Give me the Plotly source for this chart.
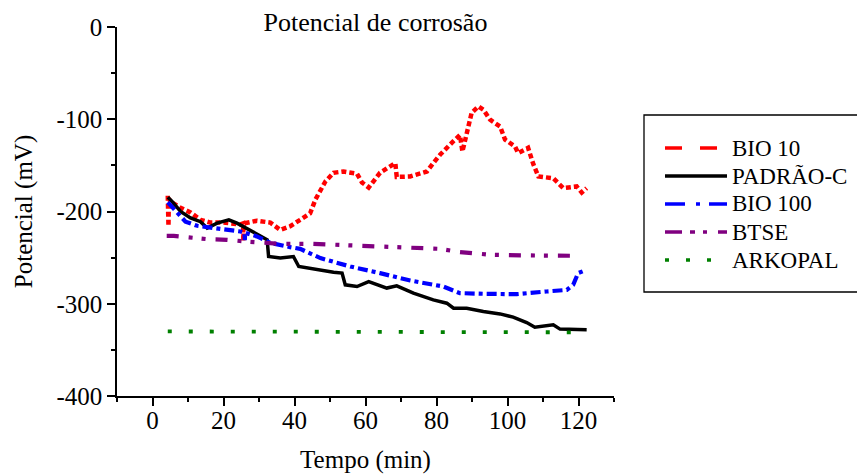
import plotly.graph_objects as go

# Open-circuit potential vs. time for each formulation
bio10_t = [4.3, 4.5, 4.6, 5.0, 7.9, 10.7, 13.5, 16.3, 20.0, 24.8, 25.5, 25.6, 25.7, 29.4,
           33.2, 36.0, 38.8, 41.6, 44.4, 45.9, 47.7, 48.7, 51.0, 53.8, 57.6, 59.0, 60.9,
           64.1, 68.4, 68.8, 72.6, 77.3, 79.1, 81.0, 84.7, 86.6, 87.3, 88.5, 89.9, 91.8,
           93.2, 95.1, 97.9, 99.3, 102.1, 103.0, 105.8, 107.3, 108.7, 112.9, 115.7, 119.5,
           120.9, 122.3]
bio10_v = [-183, -216, -186, -189, -196, -201, -209, -212, -212, -214, -213, -232, -213, -210,
           -212, -220, -216, -209, -202, -187, -173, -167.5, -158, -156.6, -159, -168.5, -174,
           -158, -147.5, -162.5, -162, -156.6, -147.5, -138.5, -124, -117, -135, -115, -93, -86,
           -89.7, -100.5, -107.8, -122, -129.5, -136.7, -131, -149, -162, -164, -174.6, -172.9,
           -179.4, -174.6]

padrao_t = [4.3, 5.5, 7.9, 10.7, 13.5, 15.4, 18.2, 21.5, 23.8, 26.6, 29.0, 32.3, 32.7, 36.0,
            39.7, 41.2, 46.3, 51.0, 53.4, 54.3, 57.6, 60.9, 66.0, 68.8, 73.5, 79.1, 82.9, 84.8,
            88.5, 93.2, 97.9, 101.6, 105.4, 107.7, 112.9, 114.8, 122.3]
padrao_v = [-184.5, -189, -200, -207, -211, -218, -212.6, -209, -212.6, -218, -223.5, -230.7,
            -248.8, -250.5, -248.8, -259.6, -263.2, -265.8, -266.8, -279.5, -281.3, -276, -283,
            -280.6, -288.5, -295.8, -299.4, -304.8, -304.8, -308.4, -311, -314.5, -320.4, -325.4,
            -322.9, -327.5, -328.3]

bio100_t = [4.3, 6.9, 9.3, 12.6, 18.2, 21.9, 24.8, 25.9, 26.0, 26.1, 29.4, 33.2, 38.8, 41.6,
            47.3, 55.7, 64.1, 72.6, 81.9, 86.6, 94.1, 102.6, 111.0, 116.7, 118.5, 119.9, 121.8]
bio100_v = [-190, -201.7, -211, -215.5, -218, -220, -221.7, -223, -231, -223, -227, -234,
            -238.6, -240.5, -250.5, -259.6, -266.8, -274.8, -281.3, -288.5, -289.3, -289.6,
            -286.7, -285, -279.5, -266.8, -264]

btse_t = [4.0, 6.0, 15.4, 21.0, 26.2, 36.0, 44.4, 51.0, 66.0, 81.0, 86.6, 95.6, 110.0, 120.0]
btse_v = [-226.5, -226.5, -230, -230.7, -232.5, -235, -235, -236, -238, -240.5, -244, -247,
          -247.8, -248]

arkopal_t = [4.3, 30.0, 60.0, 90.0, 116.0, 122.0]
arkopal_v = [-330, -330, -330.5, -330.5, -331, -331]

x_ticks = [0, 20, 40, 60, 80, 100, 120]
y_ticks = [0, -100, -200, -300, -400]
y_labels = ["0", "-100", "-200", "-300", "-400"]

names = ["BIO 10", "PADRÃO-C", "BIO 100", "BTSE", "ARKOPAL"]
colors = ["#ff0000", "#000000", "#0000ff", "#800080", "#008000"]
widths = [4.5, 3.5, 4.2, 4.2, 3.8]
plot_dash = ["5px,3px", "solid", "10px,4px,4px,4px", "12px,10px,4px,9px,4px,10px", "4px,17px"]
key_dash = ["17px,18px", "solid", "20px,11px,4px,9px,20px", "17px,8px,5px,8px,4px,11px,9px",
            "4px,17px"]
series = [(bio10_t, bio10_v), (padrao_t, padrao_v), (bio100_t, bio100_v),
          (btse_t, btse_v), (arkopal_t, arkopal_v)]

FONT = "Liberation Serif, Times New Roman, serif"

fig = go.Figure()
for (t, v), name, c, w, d in zip(series, names, colors, widths, plot_dash):
    fig.add_trace(go.Scatter(x=t, y=v, mode="lines", name=name, showlegend=False,
                             line=dict(color=c, width=w, dash=d)))

W, H = 857, 475
L, R, T, B = 117, 243, 27, 79
pw, ph = W - L - R, H - T - B


def px_x(p):
    return (p - L) / pw


def px_y(p):
    return (H - B - p) / ph


# Key box with line samples and labels
shapes = [dict(type="rect", xref="paper", yref="paper",
               x0=px_x(644), x1=px_x(880), y0=px_y(292), y1=px_y(115),
               line=dict(color="black", width=1.3), fillcolor="white", layer="below")]
annotations = []
for i, (name, c, d) in enumerate(zip(names, colors, key_dash)):
    yc = 148 + 28 * i
    shapes.append(dict(type="line", xref="paper", yref="paper",
                       x0=px_x(665), x1=px_x(727), y0=px_y(yc), y1=px_y(yc),
                       line=dict(color=c, width=3.5, dash=d)))
    annotations.append(dict(text=name, xref="paper", yref="paper", x=px_x(730), y=px_y(yc),
                            xanchor="left", yanchor="middle", showarrow=False,
                            font=dict(family=FONT, size=23, color="black")))

fig.update_layout(
    width=W, height=H,
    margin=dict(l=L, r=R, t=T, b=B),
    paper_bgcolor="white", plot_bgcolor="white",
    font=dict(family=FONT, size=25, color="black"),
    title=dict(text="Potencial de corrosão", x=px_x(375.5), xref="paper", xanchor="center",
               y=1 - 22 / H, yanchor="middle", font=dict(family=FONT, size=26, color="black")),
    shapes=shapes, annotations=annotations,
    showlegend=False,
)
fig.update_xaxes(
    range=[-10, 130], tickvals=x_ticks, automargin=False, ticklabelstandoff=-7,
    showgrid=False, zeroline=False, showline=True, linecolor="black", linewidth=1.5,
    ticks="outside", ticklen=8, tickwidth=1.5, tickcolor="black",
    minor=dict(tickvals=[-10, 10, 30, 50, 70, 90, 110, 130], ticks="outside", ticklen=4,
               tickwidth=1.5, tickcolor="black"),
    tickfont=dict(family=FONT, size=25),
    title=dict(text="Tempo (min)", standoff=18, font=dict(family=FONT, size=25)),
)
fig.update_yaxes(
    range=[-400, 0], tickvals=y_ticks, ticktext=y_labels, automargin=False,
    showgrid=False, zeroline=False, showline=True, linecolor="black", linewidth=1.5,
    ticks="outside", ticklen=8, tickwidth=1.5, tickcolor="black",
    minor=dict(tickvals=[-50, -150, -250, -350], ticks="outside", ticklen=4,
               tickwidth=1.5, tickcolor="black"),
    tickfont=dict(family=FONT, size=25),
    title=dict(text="Potencial (mV)", standoff=17, font=dict(family=FONT, size=25)),
)

fig.write_html("out.html")
